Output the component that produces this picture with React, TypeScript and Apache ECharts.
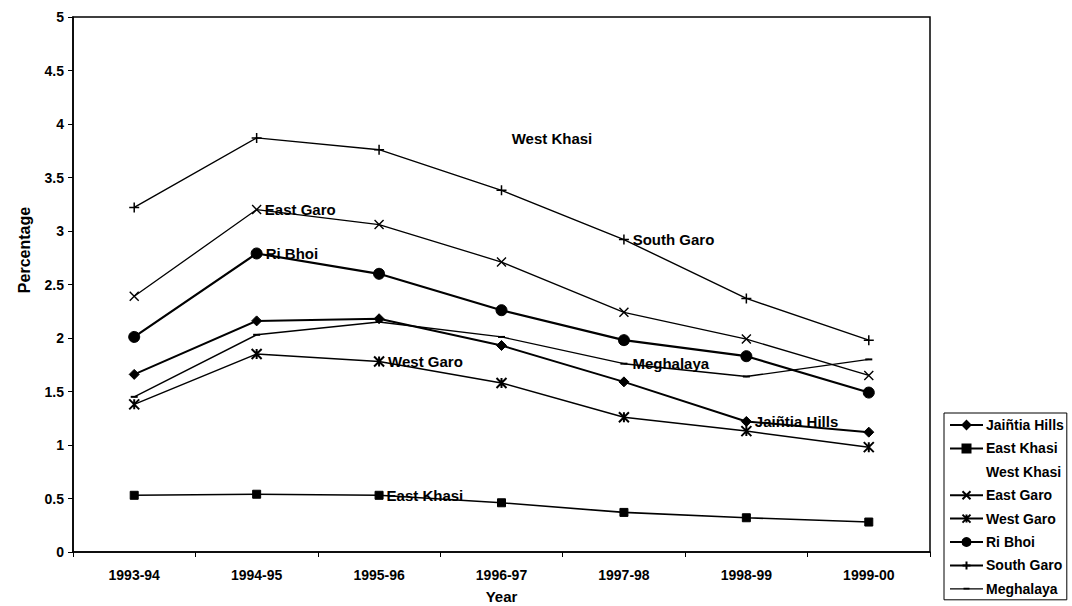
import React, { useEffect, useRef } from "react";
import * as echarts from "echarts";

const years = ["1993-94", "1994-95", "1995-96", "1996-97", "1997-98", "1998-99", "1999-00"];
const jaintiaHills = [1.66, 2.16, 2.18, 1.93, 1.59, 1.22, 1.12];
const eastKhasi = [0.53, 0.54, 0.53, 0.46, 0.37, 0.32, 0.28];
const westKhasi: (number | null)[] = [null, null, null, null, null, null, null];
const eastGaro = [2.39, 3.2, 3.06, 2.71, 2.24, 1.99, 1.65];
const westGaro = [1.38, 1.85, 1.78, 1.58, 1.26, 1.13, 0.98];
const riBhoi = [2.01, 2.79, 2.6, 2.26, 1.98, 1.83, 1.49];
const southGaro = [3.22, 3.87, 3.76, 3.38, 2.92, 2.37, 1.98];
const meghalaya = [1.45, 2.03, 2.15, 2.01, 1.76, 1.64, 1.8];

const FONT = "'Liberation Sans', Arial, sans-serif";

const MEGHALAYA_ICON =
  "path://M0,0L0.01,0L0,0.01Z M0,4.4L33,4.4L33,5.6L0,5.6Z M13.5,4L19.5,4L19.5,6L13.5,6Z M0,10L0.01,10L0,9.99Z";

export default function App() {
  const ref = useRef<HTMLDivElement>(null);
  useEffect(() => {
    if (!ref.current) return;
    const chart = echarts.init(ref.current, null, { renderer: "svg" });
    const labelStyle = {
      show: true,
      position: "right",
      distance: 3,
      formatter: "{a}",
      color: "#000",
      fontFamily: FONT,
      fontWeight: "bold",
      fontSize: 15,
    };
    const mk = (vals: (number | null)[], labelIdx: number) =>
      vals.map((v, i) => (i === labelIdx ? { value: v, label: labelStyle } : v));
    const base = (name: string, data: any[], symbol: string, symbolSize: any, lw: number, bw: number) => ({
      name,
      type: "line",
      data,
      symbol,
      symbolSize,
      showAllSymbol: true,
      lineStyle: { color: "#000", width: lw },
      itemStyle: { color: "#000", borderColor: "#000", borderWidth: bw },
      label: { show: false },
      emphasis: { disabled: true },
    });
    chart.setOption({
      animation: false,
      backgroundColor: "#fff",
      textStyle: { fontFamily: FONT },
      grid: {
        left: 73,
        right: 142,
        top: 17,
        bottom: 54,
        outerBoundsMode: "none",
        containLabel: false,
        show: true,
        borderColor: "#000",
        borderWidth: 1.5,
        backgroundColor: "transparent",
      },
      legend: {
        orient: "vertical",
        left: 944,
        top: 413,
        itemWidth: 33,
        itemHeight: 10,
        itemGap: 9.4,
        padding: [5, 3, 4, 5],
        borderColor: "#000",
        borderWidth: 1,
        backgroundColor: "#fff",
        selectedMode: false,
        textStyle: {
          color: "#000",
          fontFamily: FONT,
          fontWeight: "bold",
          fontSize: 14,
          lineHeight: 14,
          padding: [0, 0, 0, -2],
        },
        data: [
          "Jaiñtia Hills",
          "East Khasi",
          { name: "West Khasi", icon: "none" },
          "East Garo",
          "West Garo",
          "Ri Bhoi",
          "South Garo",
          { name: "Meghalaya", icon: MEGHALAYA_ICON },
        ],
      },
      xAxis: {
        type: "category",
        data: years,
        boundaryGap: true,
        axisLine: { lineStyle: { color: "#000", width: 1.5 } },
        axisTick: { show: true, length: 5, lineStyle: { color: "#000" } },
        axisLabel: { color: "#000", fontFamily: FONT, fontWeight: "bold", fontSize: 14, margin: 16 },
        name: "Year",
        nameLocation: "middle",
        nameGap: 37,
        nameTextStyle: { color: "#000", fontFamily: FONT, fontWeight: "bold", fontSize: 15 },
        splitLine: { show: false },
      },
      yAxis: {
        type: "value",
        min: 0,
        max: 5,
        interval: 0.5,
        axisLine: { show: true, lineStyle: { color: "#000", width: 1.5 } },
        axisTick: { show: true, length: 5, lineStyle: { color: "#000" } },
        axisLabel: { color: "#000", fontFamily: FONT, fontWeight: "bold", fontSize: 14, margin: 9 },
        splitLine: { show: false },
      },
      graphic: [
        {
          type: "text",
          x: 24,
          y: 250,
          rotation: Math.PI / 2,
          style: {
            text: "Percentage",
            fill: "#000",
            font: `bold 16px ${FONT}`,
            textAlign: "center",
            textVerticalAlign: "middle",
          },
        },
        {
          type: "text",
          x: 552,
          y: 138,
          style: {
            text: "West Khasi",
            fill: "#000",
            font: `bold 15px ${FONT}`,
            textAlign: "center",
            textVerticalAlign: "middle",
          },
        },
      ],
      series: [
        base("Jaiñtia Hills", mk(jaintiaHills, 5), "diamond", 10, 2, 1),
        base("East Khasi", mk(eastKhasi, 2), "rect", 8, 1.6, 1),
        {
          name: "West Khasi",
          type: "line",
          data: westKhasi,
          symbol: "none",
          lineStyle: { color: "#000", width: 0, opacity: 0 },
          itemStyle: { color: "#000", opacity: 0 },
        },
        base("East Garo", mk(eastGaro, 1), "path://M0,0L10,10M10,0L0,10", 9, 1.3, 1.4),
        base("West Garo", mk(westGaro, 2), "path://M0,0L10,10M10,0L0,10M5,0L5,10", 10, 1.5, 2),
        base("Ri Bhoi", mk(riBhoi, 1), "circle", 11, 2.2, 1),
        base("South Garo", mk(southGaro, 4), "path://M5,0L5,10M0,5L10,5", 10, 1.4, 1.5),
        {
          ...base("Meghalaya", mk(meghalaya, 4), "rect", [7, 2], 1.4, 0),
          data: meghalaya.map((v, i) =>
            i === 4 ? { value: v, label: { ...labelStyle, distance: 5 } } : v
          ),
        },
      ],
    });
    return () => chart.dispose();
  }, []);
  return (
    <div
      ref={ref}
      style={{ position: "fixed", left: 0, top: 0, width: 1072, height: 606, background: "#fff" }}
    />
  );
}
